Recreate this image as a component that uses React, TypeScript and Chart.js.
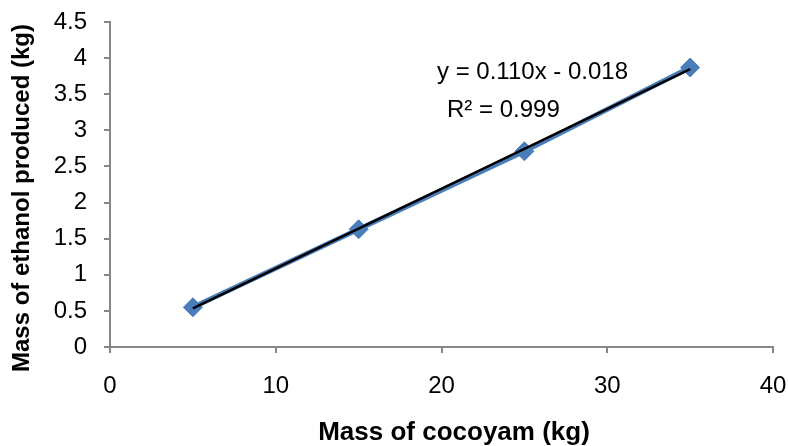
import React, { useEffect, useRef } from "react";
import { Chart, registerables } from "chart.js";

Chart.register(...registerables);

// ---- data ----
const massCocoyam = [5, 15, 25, 35];
const massEthanol = [0.55, 1.63, 2.71, 3.87];
const xTickValues = [0, 10, 20, 30, 40];
const yTickValues = [0, 0.5, 1, 1.5, 2, 2.5, 3, 3.5, 4, 4.5];
const equationLabel = "y = 0.110x - 0.018";
const r2Label = "R² = 0.999";
const xTitle = "Mass of cocoyam (kg)";
const yTitle = "Mass of ethanol produced (kg)";

function linearFit(xs: number[], ys: number[]) {
  const n = xs.length;
  const mx = xs.reduce((a, b) => a + b, 0) / n;
  const my = ys.reduce((a, b) => a + b, 0) / n;
  let sxy = 0;
  let sxx = 0;
  for (let i = 0; i < n; i++) {
    sxy += (xs[i] - mx) * (ys[i] - my);
    sxx += (xs[i] - mx) * (xs[i] - mx);
  }
  const slope = sxy / sxx;
  return { slope, intercept: my - slope * mx };
}

const FONT = '"Liberation Sans", Arial, Helvetica, sans-serif';
const GRAY = "#868686";
const BLUE = "#4A7EBB";

function zeroPadding(scale: any) {
  scale.paddingTop = 0;
  scale.paddingBottom = 0;
  scale.paddingLeft = 0;
  scale.paddingRight = 0;
}

export default function App() {
  const ref = useRef<HTMLCanvasElement | null>(null);

  useEffect(() => {
    document.body.style.margin = "0";
    const canvas = ref.current;
    if (!canvas) return;

    const { slope, intercept } = linearFit(massCocoyam, massEthanol);
    const xMin = Math.min(...massCocoyam);
    const xMax = Math.max(...massCocoyam);
    const trend = [
      { x: xMin, y: slope * xMin + intercept },
      { x: xMax, y: slope * xMax + intercept },
    ];

    const annot = {
      id: "annot",
      afterDraw(chart: any) {
        const { ctx } = chart;
        ctx.save();
        ctx.fillStyle = "#000";
        ctx.textBaseline = "middle";
        ctx.textAlign = "left";
        ctx.font = `24px ${FONT}`;
        ctx.fillText(equationLabel, 437, 72);
        ctx.fillText(r2Label, 447, 110);
        ctx.textAlign = "center";
        ctx.font = `bold 26px ${FONT}`;
        ctx.fillText(xTitle, 454, 433);
        ctx.font = `bold 24px ${FONT}`;
        ctx.translate(22, 198);
        ctx.rotate(-Math.PI / 2);
        ctx.fillText(yTitle, 0, 0);
        ctx.restore();
      },
    };

    const chart = new Chart(canvas, {
      type: "scatter",
      data: {
        datasets: [
          {
            label: "trend",
            data: trend,
            showLine: true,
            borderColor: "#000000",
            borderWidth: 2.5,
            pointRadius: 0,
            order: 0,
          },
          {
            label: "ethanol",
            data: massCocoyam.map((x, i) => ({ x, y: massEthanol[i] })),
            showLine: true,
            borderColor: BLUE,
            backgroundColor: BLUE,
            borderWidth: 5,
            pointStyle: "rectRot",
            pointRadius: 9.5,
            pointBorderWidth: 1,
            pointBorderColor: BLUE,
            pointBackgroundColor: BLUE,
            order: 1,
          },
        ],
      },
      options: {
        responsive: false,
        animation: false,
        layout: { padding: { top: 22, right: 15, left: 0, bottom: 0 } },
        plugins: {
          legend: { display: false },
          tooltip: { enabled: false },
          title: { display: false },
        },
        scales: {
          x: {
            type: "linear",
            min: 0,
            max: 40,
            afterBuildTicks(scale: any) {
              scale.ticks = xTickValues.map((v) => ({ value: v }));
            },
            afterFit(scale: any) {
              scale.height = 99;
              zeroPadding(scale);
            },
            grid: {
              drawOnChartArea: false,
              drawTicks: true,
              tickLength: 6,
              color: GRAY,
              lineWidth: 2,
            },
            border: { display: true, color: GRAY, width: 2 },
            ticks: {
              color: "#000",
              font: { family: FONT, size: 24 },
              padding: 19,
              maxRotation: 0,
              callback: (v: any) => String(v),
            },
          },
          y: {
            type: "linear",
            min: 0,
            max: 4.5,
            afterBuildTicks(scale: any) {
              scale.ticks = yTickValues.map((v) => ({ value: v }));
            },
            afterFit(scale: any) {
              scale.width = 110;
              zeroPadding(scale);
            },
            grid: {
              drawOnChartArea: false,
              drawTicks: true,
              tickLength: 6,
              color: GRAY,
              lineWidth: 2,
            },
            border: { display: true, color: GRAY, width: 2 },
            ticks: {
              color: "#000",
              font: { family: FONT, size: 24 },
              padding: 17,
              callback: (v: any) => String(v),
            },
          },
        },
      },
      plugins: [annot],
    });

    return () => chart.destroy();
  }, []);

  return (
    <div style={{ width: 788, height: 446, background: "#fff" }}>
      <canvas ref={ref} width={788} height={446} />
    </div>
  );
}
